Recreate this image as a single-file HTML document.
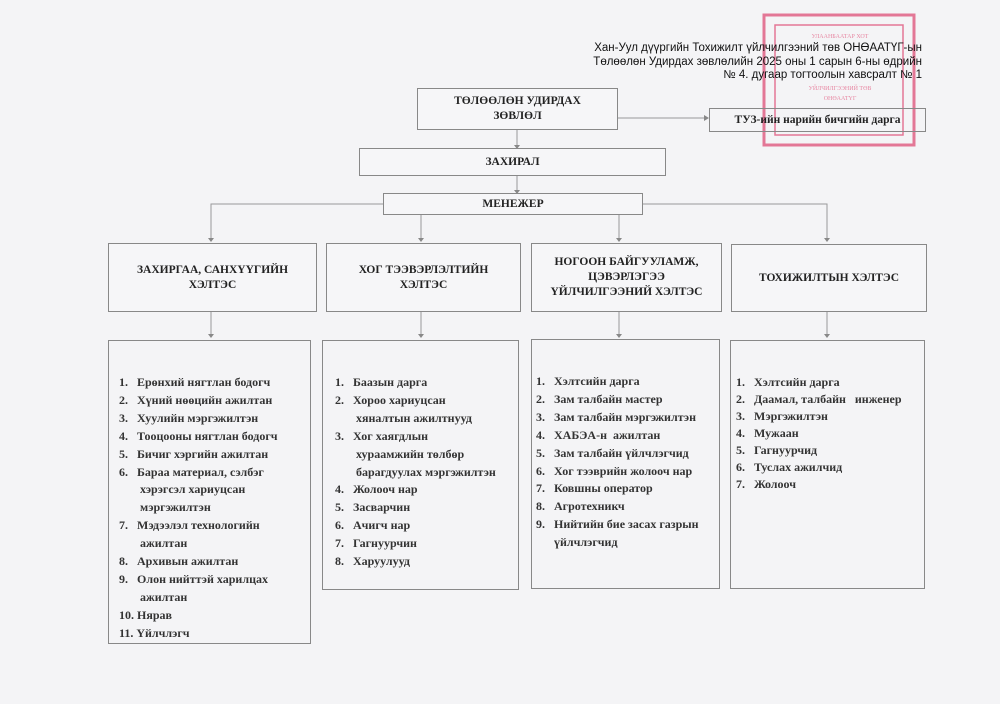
<!DOCTYPE html>
<html><head><meta charset="utf-8"><style>
body{margin:0;width:1000px;height:704px;background:#f4f4f6;position:relative;overflow:hidden;font-family:"Liberation Serif",serif;color:#222}
.b{position:absolute;border:1px solid #888;background:#f6f6f8;box-sizing:border-box;text-align:center;font-weight:bold;font-size:11.5px;display:flex;align-items:center;justify-content:center;line-height:15px}
.l{position:absolute;border:1px solid #888;box-sizing:border-box;font-size:12px;line-height:17.9px;font-weight:bold;color:#333}
.l div{position:absolute;white-space:nowrap}
.hdr{position:absolute;right:78px;top:42px;text-align:right;font-family:"Liberation Sans",sans-serif;font-size:11.5px;line-height:13.5px;color:#111}
</style></head><body>
<svg width="1000" height="704" style="position:absolute;left:0;top:0">
<g fill="none" stroke-width="3" stroke="#e0587f" opacity="0.8">
<rect x="764" y="15" width="150" height="130"/>
<rect x="775" y="25" width="128" height="110" stroke-width="1.5"/>
</g>
<g fill="#e46a8c" font-size="6" font-family="Liberation Serif" text-anchor="middle" opacity="0.8">
<text x="840" y="38">УЛААНБААТАР ХОТ</text><text x="840" y="90">УЙЛЧИЛГЭЭНИЙ ТӨВ</text><text x="840" y="100">ОНӨААТҮГ</text></g>
<g stroke="#999" stroke-width="1" fill="none">
<line x1="517" y1="130" x2="517" y2="146"/>
<line x1="517" y1="176" x2="517" y2="191"/>
<line x1="618" y1="118" x2="705" y2="118"/>
<polyline points="383,204 211,204 211,240"/>
<polyline points="643,204 827,204 827,240"/>
<line x1="421" y1="214" x2="421" y2="240"/>
<line x1="619" y1="214" x2="619" y2="240"/>
<line x1="211" y1="312" x2="211" y2="337"/>
<line x1="421" y1="312" x2="421" y2="337"/>
<line x1="619" y1="312" x2="619" y2="337"/>
<line x1="827" y1="312" x2="827" y2="337"/>
</g>
<g fill="#888">
<path d="M514,145 h6 l-3,4z"/><path d="M514,190 h6 l-3,4z"/><path d="M704,115 v6 l5,-3z"/>
<path d="M208,238 h6 l-3,4z"/><path d="M418,238 h6 l-3,4z"/><path d="M616,238 h6 l-3,4z"/><path d="M824,238 h6 l-3,4z"/>
<path d="M208,334 h6 l-3,4z"/><path d="M418,334 h6 l-3,4z"/><path d="M616,334 h6 l-3,4z"/><path d="M824,334 h6 l-3,4z"/>
</g>
</svg>
<div class="hdr">Хан-Уул дүүргийн Тохижилт үйлчилгээний төв ОНӨААТҮГ-ын<br>Төлөөлөн Удирдах зөвлөлийн 2025 оны 1 сарын 6-ны өдрийн<br>№ 4. дугаар тогтоолын хавсралт № 1</div>
<div class="b" style="left:417px;top:88px;width:201px;height:42px">ТӨЛӨӨЛӨН УДИРДАХ<br>ЗӨВЛӨЛ</div>
<div class="b" style="left:709px;top:108px;width:217px;height:24px;background:transparent">ТУЗ-ийн нарийн бичгийн дарга</div>
<div class="b" style="left:359px;top:148px;width:307px;height:28px">ЗАХИРАЛ</div>
<div class="b" style="left:383px;top:193px;width:260px;height:22px">МЕНЕЖЕР</div>
<div class="b" style="left:108px;top:243px;width:209px;height:69px">ЗАХИРГАА, САНХҮҮГИЙН<br>ХЭЛТЭС</div>
<div class="b" style="left:326px;top:243px;width:195px;height:69px">ХОГ ТЭЭВЭРЛЭЛТИЙН<br>ХЭЛТЭС</div>
<div class="b" style="left:531px;top:243px;width:191px;height:69px">НОГООН БАЙГУУЛАМЖ,<br>ЦЭВЭРЛЭГЭЭ<br>ҮЙЛЧИЛГЭЭНИЙ ХЭЛТЭС</div>
<div class="b" style="left:731px;top:244px;width:196px;height:68px">ТОХИЖИЛТЫН ХЭЛТЭС</div>
<div class="l" style="left:108px;top:340px;width:203px;height:304px">
<div style="left:10px;top:33px">1.&nbsp;&nbsp; Ерөнхий нягтлан бодогч<br>2.&nbsp;&nbsp; Хүний нөөцийн ажилтан<br>3.&nbsp;&nbsp; Хуулийн мэргэжилтэн<br>4.&nbsp;&nbsp; Тооцооны нягтлан бодогч<br>5.&nbsp;&nbsp; Бичиг хэргийн ажилтан<br>6.&nbsp;&nbsp; Бараа материал, сэлбэг<br>&nbsp;&nbsp;&nbsp;&nbsp;&nbsp;&nbsp; хэрэгсэл хариуцсан<br>&nbsp;&nbsp;&nbsp;&nbsp;&nbsp;&nbsp; мэргэжилтэн<br>7.&nbsp;&nbsp; Мэдээлэл технологийн<br>&nbsp;&nbsp;&nbsp;&nbsp;&nbsp;&nbsp; ажилтан<br>8.&nbsp;&nbsp; Архивын ажилтан<br>9.&nbsp;&nbsp; Олон нийттэй харилцах<br>&nbsp;&nbsp;&nbsp;&nbsp;&nbsp;&nbsp; ажилтан<br>10. Нярав<br>11. Үйлчлэгч</div></div>
<div class="l" style="left:322px;top:340px;width:197px;height:250px">
<div style="left:12px;top:33px">1.&nbsp;&nbsp; Баазын дарга<br>2.&nbsp;&nbsp; Хороо хариуцсан<br>&nbsp;&nbsp;&nbsp;&nbsp;&nbsp;&nbsp; хяналтын ажилтнууд<br>3.&nbsp;&nbsp; Хог хаягдлын<br>&nbsp;&nbsp;&nbsp;&nbsp;&nbsp;&nbsp; хураамжийн төлбөр<br>&nbsp;&nbsp;&nbsp;&nbsp;&nbsp;&nbsp; барагдуулах мэргэжилтэн<br>4.&nbsp;&nbsp; Жолооч нар<br>5.&nbsp;&nbsp; Засварчин<br>6.&nbsp;&nbsp; Ачигч нар<br>7.&nbsp;&nbsp; Гагнуурчин<br>8.&nbsp;&nbsp; Харуулууд</div></div>
<div class="l" style="left:531px;top:339px;width:189px;height:250px">
<div style="left:4px;top:33px">1.&nbsp;&nbsp; Хэлтсийн дарга<br>2.&nbsp;&nbsp; Зам талбайн мастер<br>3.&nbsp;&nbsp; Зам талбайн мэргэжилтэн<br>4.&nbsp;&nbsp; ХАБЭА-н&nbsp; ажилтан<br>5.&nbsp;&nbsp; Зам талбайн үйлчлэгчид<br>6.&nbsp;&nbsp; Хог тээврийн жолооч нар<br>7.&nbsp;&nbsp; Ковшны оператор<br>8.&nbsp;&nbsp; Агротехникч<br>9.&nbsp;&nbsp; Нийтийн бие засах газрын<br>&nbsp;&nbsp;&nbsp;&nbsp;&nbsp; үйлчлэгчид</div></div>
<div class="l" style="left:730px;top:340px;width:195px;height:249px">
<div style="left:5px;top:33px;line-height:17px">1.&nbsp;&nbsp; Хэлтсийн дарга<br>2.&nbsp;&nbsp; Даамал, талбайн&nbsp;&nbsp; инженер<br>3.&nbsp;&nbsp; Мэргэжилтэн<br>4.&nbsp;&nbsp; Мужаан<br>5.&nbsp;&nbsp; Гагнуурчид<br>6.&nbsp;&nbsp; Туслах ажилчид<br>7.&nbsp;&nbsp; Жолооч</div></div>
</body></html>
